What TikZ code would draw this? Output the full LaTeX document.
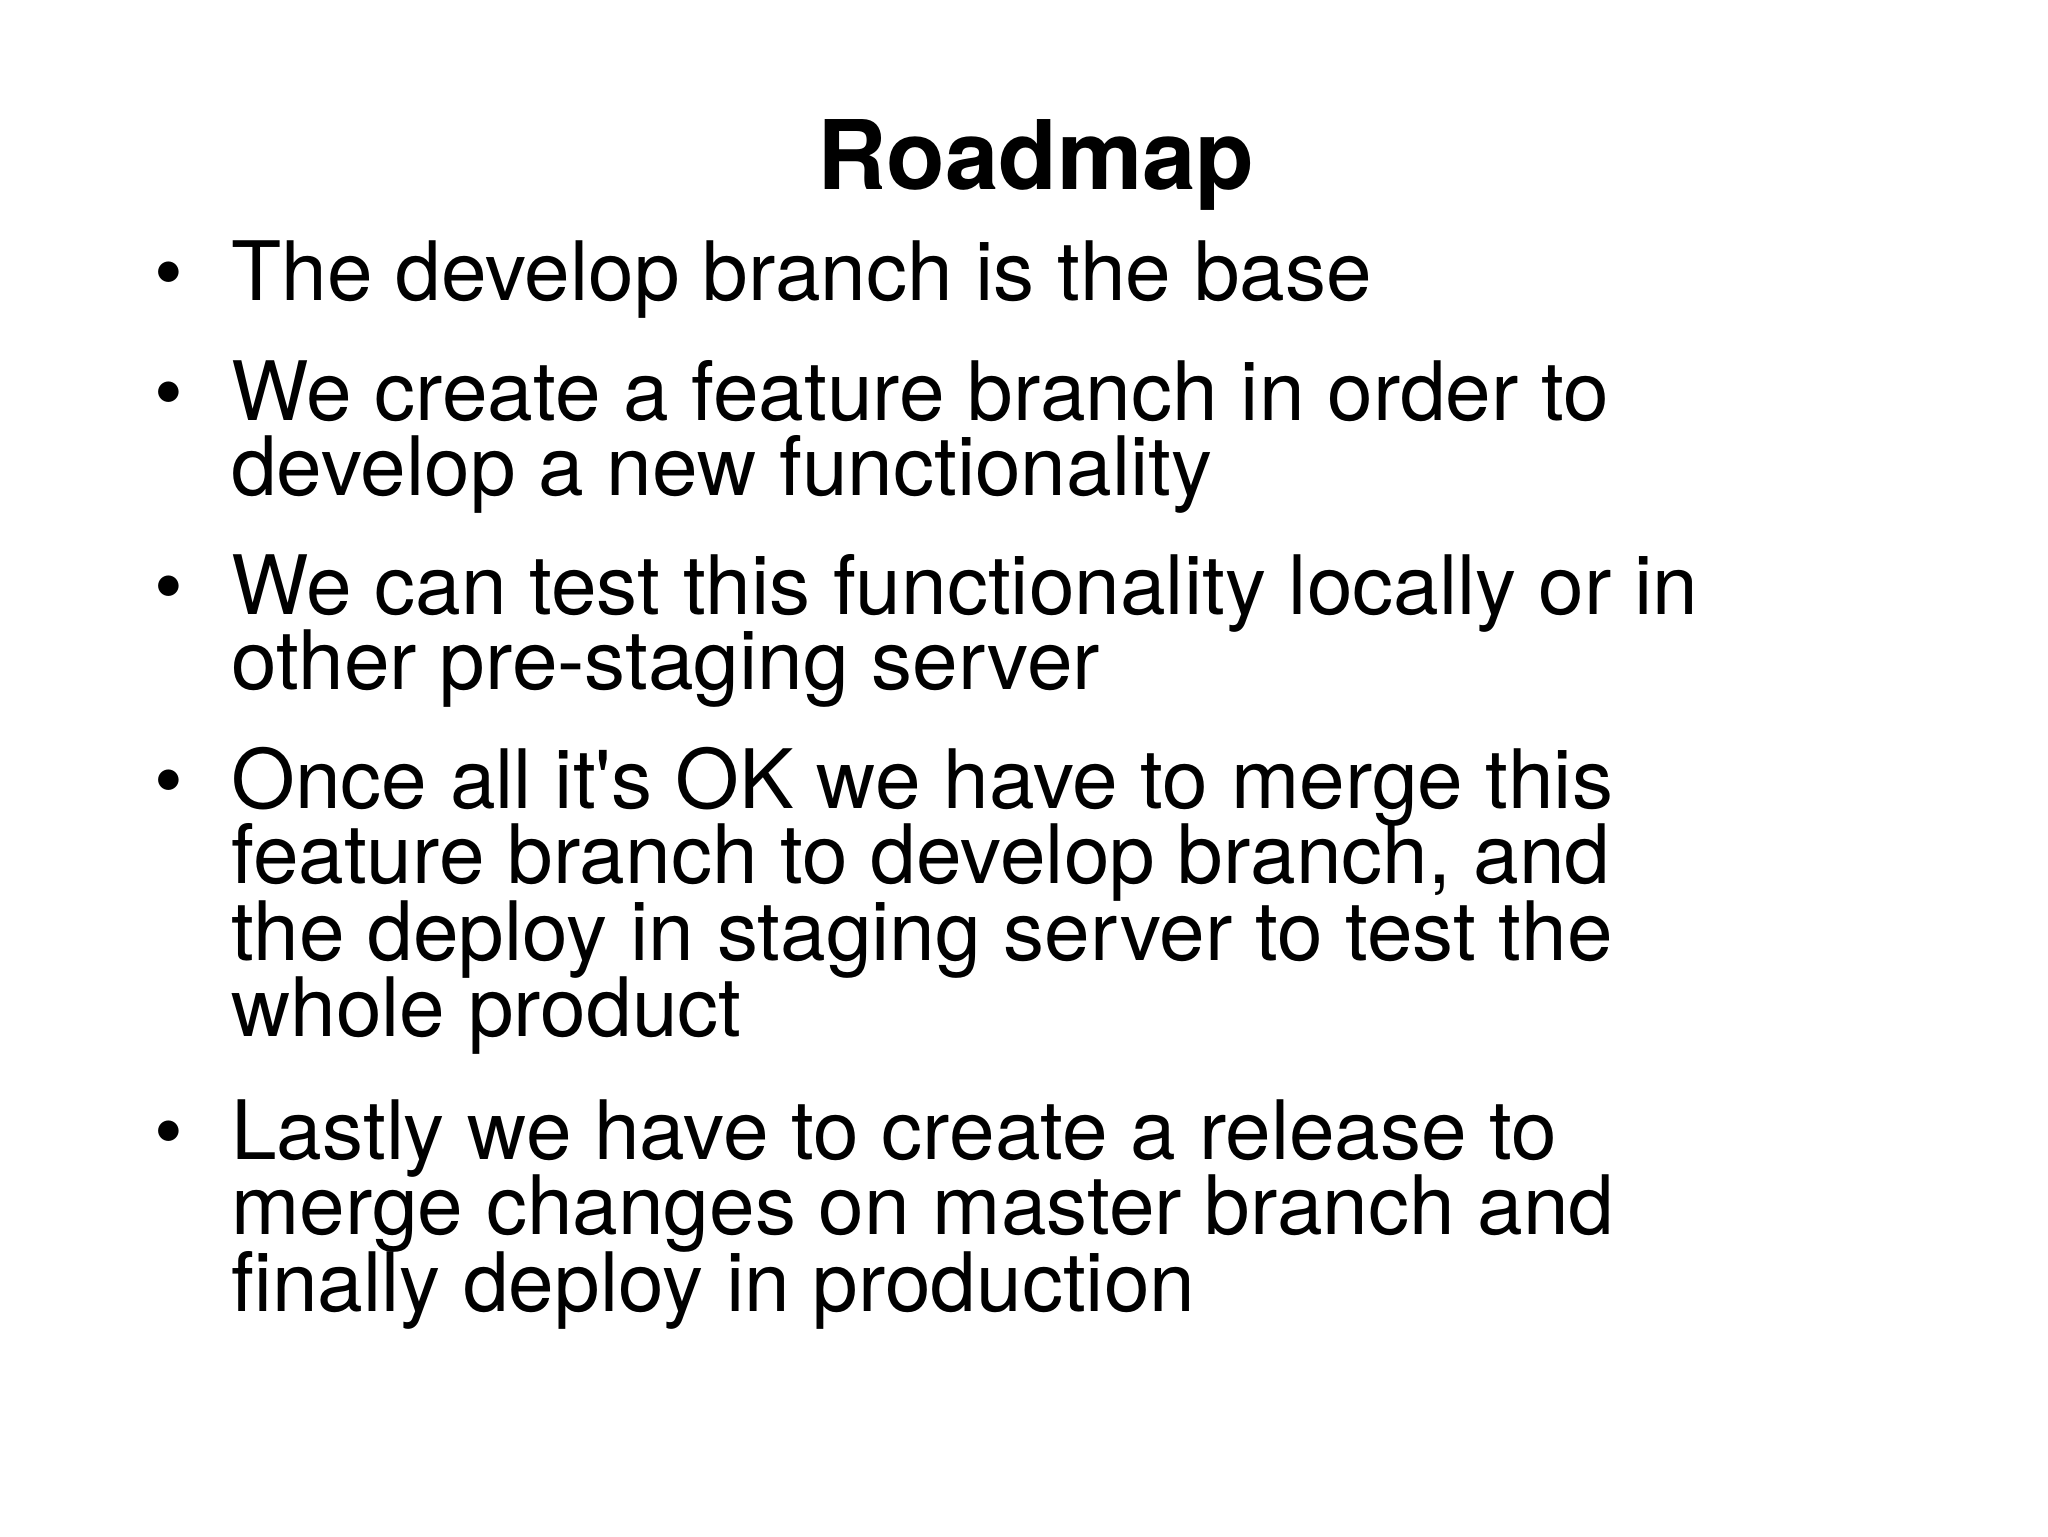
\documentclass[tikz,border=0pt]{standalone}
\usepackage{fontspec}
\setmainfont{TeX Gyre Heros}
\begin{document}
\begin{tikzpicture}[x=0.5pt,y=-0.5pt,
  ln/.style={anchor=base west,inner sep=0pt,font=\fontsize{41}{48}\selectfont},
  bul/.style={anchor=base,inner sep=0pt,font=\fontsize{41}{48}\selectfont}]
\useasboundingbox (0,0) rectangle (2048,1536);
\node[anchor=base,inner sep=0pt,font=\fontsize{48}{58}\selectfont\bfseries] (title) at (1036,189) {Roadmap};
\foreach \y/\t [count=\i] in {300/{The develop branch is the base},
  420/{We create a feature branch in order to},
  495/{develop a new functionality},
  614/{We can test this functionality locally or in},
  689/{other pre-staging server},
  808/{Once all it\textquotesingle s OK we have to merge this},
  883/{feature branch to develop branch, and},
  960/{the deploy in staging server to test the},
  1036/{whole product},
  1159/{Lastly we have to create a release to},
  1234/{merge changes on master branch and},
  1311/{finally deploy in production}}
  \node[ln] (l\i) at (231,\y) {\t};
\foreach \y [count=\i] in {300,420,614,808,1159}
  \node[bul] (b\i) at (169,\y) {•};
\end{tikzpicture}
\end{document}
